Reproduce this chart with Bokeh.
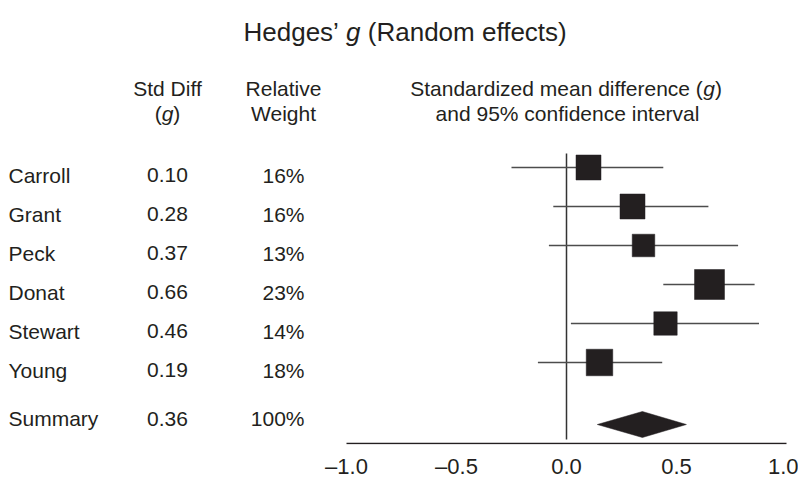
from bokeh.plotting import figure
from bokeh.models import Range1d, LinearAxis, FixedTicker, ColumnDataSource
from bokeh.core.properties import value
from bokeh.embed import file_html
from bokeh.resources import INLINE

# ---------------- data ----------------
studies = ["Carroll", "Grant", "Peck", "Donat", "Stewart", "Young"]
g_labels = ["0.10", "0.28", "0.37", "0.66", "0.46", "0.19"]
weights = [16, 16, 13, 23, 14, 18]
weight_labels = ["16%", "16%", "13%", "23%", "14%", "18%"]
g_points = [0.10, 0.30, 0.35, 0.65, 0.45, 0.15]      # drawn positions
ci_low = [-0.25, -0.06, -0.08, 0.44, 0.02, -0.13]
ci_high = [0.44, 0.645, 0.78, 0.855, 0.875, 0.435]

summary_name = "Summary"
summary_g_label = "0.36"
summary_weight_label = "100%"
summary_point = 0.345
summary_low = 0.14
summary_high = 0.545

tick_values = [-1.0, -0.5, 0.0, 0.5, 1.0]
tick_labels = ["\u20131.0", "\u20130.5", "0.0", "0.5", "1.0"]

# ---------------- layout ----------------
W = 798
FH = 444
ZERO_PX = 566.0
PPU = 220.0
FONT = value("Liberation Sans")
INK = "#231f20"


def px(cx):
    return (cx - ZERO_PX) / PPU


row_y = [167 + 39 * i for i in range(len(studies))]
text_y = [r + 7.5 for r in row_y]
sizes = [6.25 * (w ** 0.5) for w in weights]

p = figure(width=W, frame_width=W, frame_height=FH,
           x_range=Range1d(px(0), px(W)), y_range=Range1d(FH, 0),
           x_axis_type=None, y_axis_type=None,
           toolbar_location=None, output_backend="svg",
           min_border_left=0, min_border_right=0, min_border_top=0,
           min_border_bottom=0, background_fill_color="white",
           border_fill_color="white")
p.outline_line_color = None
p.xgrid.visible = False
p.ygrid.visible = False

axis = LinearAxis(ticker=FixedTicker(ticks=tick_values),
                  major_label_overrides={v: l for v, l in zip(tick_values, tick_labels)})
axis.axis_line_color = None
axis.major_tick_line_color = None
axis.minor_tick_line_color = None
axis.major_label_text_font = "Liberation Sans"
axis.major_label_text_font_size = "22px"
axis.major_label_text_color = INK
axis.major_label_standoff = 3
p.add_layout(axis, "below")

# axis line and zero line
p.segment(x0=[-1.0], y0=[443], x1=[1.0], y1=[443], line_color=INK, line_width=1.3)
p.segment(x0=[0.0], y0=[153], x1=[0.0], y1=[439], line_color="#333333", line_width=1.5)

# confidence intervals and squares
src = ColumnDataSource(dict(g=g_points, lo=ci_low, hi=ci_high, y=row_y, size=sizes))
p.segment(x0="lo", y0="y", x1="hi", y1="y", source=src, line_color="#4d4d4d", line_width=1.6)
p.scatter(x="g", y="y", size="size", marker="square", source=src,
          fill_color=INK, line_color=INK, line_width=0.5)

# summary diamond
p.patch(x=[summary_low, summary_point, summary_high, summary_point],
        y=[424, 411, 424, 437], fill_color=INK, line_color=INK, line_width=0.5)


def txt(x, y, s, align="left", size="21px", style="normal"):
    p.text(x=[x], y=[y], text=[s], text_align=align, text_baseline="alphabetic",
           text_font=FONT, text_font_size=size, text_font_style=style, text_color=INK)


# table rows
p.text(x=[px(8)] * len(studies), y=text_y, text=studies, text_align="left",
       text_baseline="alphabetic", text_font=FONT, text_font_size="21px", text_color=INK)
p.text(x=[px(167)] * len(studies), y=text_y, text=g_labels, text_align="center",
       text_baseline="alphabetic", text_font=FONT, text_font_size="21px", text_color=INK)
p.text(x=[px(304)] * len(studies), y=text_y, text=weight_labels, text_align="right",
       text_baseline="alphabetic", text_font=FONT, text_font_size="21px", text_color=INK)
txt(px(8), 418, summary_name)
txt(px(167), 418, summary_g_label, align="center")
txt(px(304), 418, summary_weight_label, align="right")

# headers
txt(px(167), 88, "Std Diff", align="center")
txt(px(167 - 5.85), 113, "(", align="right")
txt(px(167), 113, "g", align="center", style="italic")
txt(px(167 + 5.85), 113, ")", align="left")
txt(px(283), 88, "Relative", align="center")
txt(px(283), 113, "Weight", align="center")
txt(px(409.7), 88, "Standardized mean difference (", align="left")
txt(px(702.7), 88, "g", align="left", style="italic")
txt(px(714.4), 88, ")", align="left")
txt(px(567), 113, "and 95% confidence interval", align="center")

# title
txt(px(243), 31, "Hedges\u2019", align="left", size="26px")
txt(px(345.6), 31, "g", align="left", size="26px", style="italic")
txt(px(367.3), 31, "(Random effects)", align="left", size="26px")

open("out.html", "w").write(file_html(p, INLINE))
